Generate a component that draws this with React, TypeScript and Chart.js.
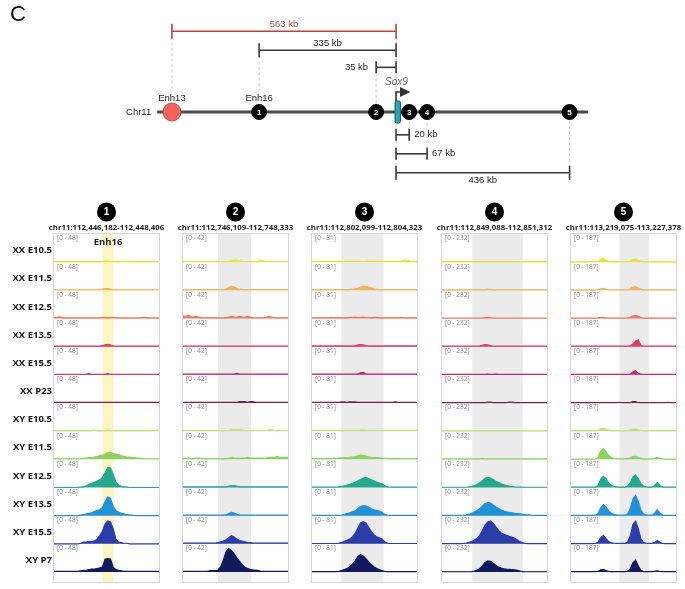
import React, { useEffect, useRef } from "react";
import { Chart, registerables } from "chart.js";

Chart.register(...registerables);

// ---------------- data: top locus map ----------------
const panelLetter = "C";
const chromName = "Chr11";
const chromosomeSpan = [-600, 482]; // schematic kb relative to Sox9 TSS
const elementNames = ["Enh13", "Enh16", "", "", "", ""];
const elementBadges = ["", "1", "2", "3", "4", "5"];
const elementPos = [-563, -344, -50, 33, 78, 436]; // schematic kb
const bracketStart = [-563, -344, -50, 0, 0, 0];
const bracketEnd = [0, 0, 0, 33, 78, 436];
const bracketLevel = [4.25, 3.25, 2.35, -1.2, -2.2, -3.2];
const bracketText = ["563 kb", "335 kb", "35 kb", "20 kb", "67 kb", "436 kb"];
const bracketTextSide = ["above", "above", "left", "right", "right", "below"];
const guideStop = [1.16, 1.16, 0.45, -0.45, -0.45, -0.45];
const geneName = "Sox9";
const sox9Span = [-2.5, 11];

// ---------------- data: coverage tracks ----------------
const trackNames = [
  "XX E10.5", "XX E11.5", "XX E12.5", "XX E13.5", "XX E15.5", "XX P23",
  "XY E10.5", "XY E11.5", "XY E12.5", "XY E13.5", "XY E15.5", "XY P7",
];
const regionBadges = ["1", "2", "3", "4", "5"];
const regionCoords = [
  "chr11:112,446,182-112,448,406",
  "chr11:112,746,109-112,748,333",
  "chr11:112,802,099-112,804,323",
  "chr11:112,849,088-112,851,312",
  "chr11:113,219,075-113,227,378",
];
const regionTags = ["Enh16", "", "", "", ""];
const rangeMax = [48, 42, 81, 232, 187];
const highlightStart = [18, 13, 10.9, 11.2, 18]; // bin units
const highlightEnd = [22.1, 25.3, 26.6, 30, 28.9];

const region1Tracks = [
  [1,1,1,1,1,1,1,1,1,1, 1,1,1,1,1,1,1,1,1,2, 2,1,1,1,1,1,1,2,1,1, 1,1,1,1,1,1,1,1,1,1],
  [1,1,1,1,1,1,1,1,1,1, 1,1,1,1,1,1,1,1,2,3, 3,2,1,1,1,1,1,1,1,1, 1,1,1,1,1,1,1,1,1,1],
  [1,2,3,2,1,1,1,1,1,1, 1,1,1,1,1,1,1,1,2,2, 1,2,2,1,1,1,1,1,1,1, 1,1,1,2,2,1,1,1,1,1],
  [1,1,1,1,1,1,1,1,1,1, 1,1,1,1,1,1,1,1,2,3, 4,3,1,1,1,1,1,1,1,1, 1,1,1,1,1,1,1,1,1,1],
  [1,1,1,1,1,1,1,1,1,1, 1,1,1,2,1,1,1,1,1,1, 2,1,1,1,1,1,1,1,1,1, 1,1,1,1,1,1,1,1,1,1],
  [1,1,1,1,1,1,1,1,1,1, 1,1,1,1,1,1,1,1,1,1, 1,1,1,1,1,1,1,1,1,1, 1,1,1,1,1,1,1,1,1,1],
  [1,1,1,1,1,1,1,1,1,1, 1,1,1,1,1,2,1,1,1,1, 2,1,1,1,1,1,1,1,1,1, 1,1,1,1,1,1,1,1,2,2],
  [1,1,1,1,1,1,1,1,1,1, 1,2,2,3,3,4,5,6,7,9, 11,12,10,9,8,6,5,4,4,3, 3,2,2,1,1,1,1,1,1,1],
  [0,0,0,0,0,0,0,0,0,0, 1,1,3,5,7,9,11,13,17,26, 34,33,22,9,4,2,1,1,0,0, 0,0,0,0,0,0,0,0,0,0],
  [0,0,0,0,0,0,0,0,0,0, 1,2,3,4,5,7,9,10,14,24, 32,29,15,9,6,4,3,2,1,1, 0,0,0,0,0,0,0,0,0,0],
  [0,0,0,0,0,0,0,0,0,0, 1,3,3,4,4,5,8,14,22,34, 39,37,26,8,3,2,1,1,0,0, 0,0,0,0,0,0,0,0,0,0],
  [1,1,1,1,1,1,1,1,1,1, 2,3,3,4,5,5,6,7,9,22, 23,22,8,4,3,2,1,1,1,1, 1,1,1,1,1,1,1,1,1,1],
];

const region2Tracks = [
  [1,1,1,1,1,1,1,1,1,1, 1,1,1,1,1,1,1,1,2,3, 3,2,1,1,1,1,1,1,2,3, 2,1,1,1,1,1,1,1,1,1],
  [1,1,1,1,1,1,1,1,1,1, 1,1,1,1,1,1,2,4,6,5, 3,2,1,1,1,1,1,1,1,1, 1,1,1,1,1,1,1,1,1,1],
  [4,3,5,3,2,3,2,1,1,1, 1,1,1,1,1,1,1,2,3,2, 2,3,2,2,3,2,1,1,1,1, 1,2,3,2,1,1,1,1,1,1],
  [1,1,1,1,1,1,1,1,1,1, 1,1,1,1,1,1,1,1,1,1, 1,1,1,1,1,1,1,1,1,1, 1,1,1,1,1,1,1,1,1,1],
  [1,1,1,1,1,1,1,1,1,1, 1,1,1,1,1,1,1,1,1,1, 2,1,1,1,1,1,1,1,1,1, 1,1,1,1,1,1,1,1,1,1],
  [1,1,1,1,1,1,1,1,1,1, 1,1,1,1,1,1,1,1,1,1, 1,2,2,2,1,2,2,1,1,1, 1,1,1,1,1,1,1,1,1,1],
  [1,1,1,1,1,1,1,1,1,1, 1,1,1,1,1,1,1,1,2,2, 2,2,2,1,1,1,1,1,1,1, 1,1,2,2,1,1,1,1,1,1],
  [1,1,2,1,1,2,2,1,1,1, 1,1,1,1,1,1,1,2,3,2, 2,2,2,2,3,2,2,2,2,2, 2,2,3,3,3,4,3,3,3,3],
  [1,1,1,1,1,1,1,1,1,1, 1,1,1,1,1,1,1,2,3,3, 2,1,1,1,1,1,1,1,1,1, 1,1,1,1,1,1,1,1,1,1],
  [1,1,1,1,1,1,1,1,1,1, 1,1,1,1,1,1,1,3,5,4, 2,1,1,1,1,1,1,1,1,1, 1,1,1,1,1,1,1,1,1,1],
  [1,1,1,1,1,1,1,1,1,1, 1,1,1,2,3,4,6,9,12,10, 7,5,4,3,2,2,1,1,1,1, 1,1,1,1,1,1,1,1,1,1],
  [1,1,1,1,1,1,1,1,1,1, 2,2,2,3,8,18,30,35,32,27, 21,16,11,7,5,4,3,3,2,1, 1,1,1,1,1,1,1,1,1,1],
];

const region3Tracks = [
  [2,2,2,2,2,2,2,2,2,2, 2,2,2,2,2,2,2,2,2,2, 3,3,2,2,2,2,2,2,2,2, 2,2,2,3,5,6,4,2,2,2],
  [2,2,2,2,2,2,2,2,2,2, 2,2,2,2,2,3,4,6,9,12, 11,9,7,5,3,2,2,2,2,2, 2,2,2,2,2,2,2,2,2,2],
  [2,2,2,2,2,2,2,3,2,2, 2,2,2,2,3,3,4,3,3,4, 3,3,2,3,3,2,2,2,2,2, 2,2,2,3,2,2,2,2,2,2],
  [2,2,2,2,2,2,2,2,2,2, 2,2,2,2,2,2,3,5,6,5, 3,2,2,2,2,2,2,2,2,2, 2,2,2,2,2,2,2,2,2,2],
  [2,2,2,2,2,2,2,2,2,2, 2,2,2,2,2,2,2,3,6,7, 3,2,2,2,2,2,2,2,2,2, 2,2,2,2,2,2,2,2,2,2],
  [2,2,2,2,2,2,2,2,2,2, 2,3,3,2,3,3,3,2,2,2, 2,2,2,2,2,2,2,2,2,2, 2,3,2,2,2,2,2,2,2,2],
  [2,2,2,2,2,2,2,2,2,2, 2,2,2,2,2,2,2,2,3,3, 3,2,2,2,2,2,2,2,2,2, 2,2,2,2,2,2,2,2,2,2],
  [2,2,2,2,2,2,2,2,3,3, 4,4,5,5,6,7,8,10,12,11, 9,7,6,5,5,4,4,3,3,2, 2,3,2,2,2,2,2,2,2,2],
  [1,1,1,1,1,1,1,1,1,1, 2,3,5,7,9,12,15,19,23,27, 29,26,22,19,16,13,10,5,2,1, 1,1,1,1,1,1,1,1,1,1],
  [1,1,1,1,1,1,1,1,1,1, 1,2,4,6,8,11,14,20,26,29, 28,25,20,17,15,13,10,4,2,1, 1,1,1,1,1,1,1,1,1,1],
  [1,1,1,1,1,1,1,1,1,1, 2,4,7,10,14,20,30,45,60,64, 60,48,36,26,20,17,14,6,2,1, 1,1,1,1,1,1,1,1,1,1],
  [1,1,1,1,1,1,1,1,1,1, 2,4,7,10,15,22,32,44,50,46, 38,30,22,15,10,7,4,2,1,1, 1,1,1,1,1,1,1,1,1,1],
];

const region4Tracks = [
  [4,4,4,4,4,4,4,4,4,4, 4,4,4,4,4,4,4,4,4,4, 4,4,4,4,4,4,4,4,4,4, 4,4,4,4,4,4,4,4,4,4],
  [4,4,4,4,4,4,4,4,4,4, 4,4,4,4,4,4,4,8,8,4, 4,4,4,4,4,4,4,4,4,4, 4,4,4,4,4,4,4,4,4,4],
  [4,4,4,4,4,4,4,4,4,4, 4,4,4,4,4,4,8,10,8,4, 4,4,4,4,4,4,4,4,4,4, 4,4,4,4,4,4,4,4,4,4],
  [4,4,4,4,4,4,4,4,4,4, 4,4,4,4,6,12,16,14,8,4, 4,4,4,4,4,4,4,4,4,4, 4,4,4,4,4,4,4,4,4,4],
  [4,4,4,4,4,4,4,4,4,4, 4,4,4,4,4,4,4,6,4,4, 6,4,4,4,4,4,4,4,4,4, 4,4,4,4,4,4,4,4,4,4],
  [3,3,3,3,3,3,3,3,3,3, 3,3,3,3,3,3,3,7,7,3, 3,3,3,3,3,7,7,3,3,3, 3,3,3,3,3,3,3,3,3,3],
  [3,3,3,3,3,3,3,3,3,3, 3,3,3,3,3,3,3,3,3,3, 3,3,3,3,3,3,3,3,3,3, 3,3,3,3,3,3,3,3,3,3],
  [3,3,3,3,3,3,3,3,3,3, 3,3,3,3,3,7,3,3,3,3, 3,3,3,3,3,3,3,3,3,3, 3,3,3,3,3,3,3,3,3,3],
  [2,2,2,2,2,2,2,2,2,2, 5,10,16,25,38,55,75,83,78,66, 52,40,30,22,16,12,9,6,4,3, 2,2,2,2,2,2,2,2,2,2],
  [2,2,2,2,2,2,2,2,4,7, 12,20,30,42,58,80,100,108,104,88, 72,58,46,38,32,27,23,20,17,14, 11,8,6,4,3,2,2,2,2,2],
  [2,2,2,2,2,2,2,2,3,6, 12,20,30,45,70,110,155,180,188,170, 140,110,90,78,70,62,55,45,32,18, 8,4,2,2,2,2,2,2,2,2],
  [2,2,2,2,2,2,2,2,2,2, 2,3,8,15,28,50,78,91,88,72, 55,40,32,27,24,22,20,18,14,8, 3,2,2,2,2,2,2,2,2,2],
];

const region5Tracks = [
  [2,2,2,2,2,2,2,3,6,3, 4,18,27,12,5,2,2,2,2,2, 2,3,8,18,20,12,5,2,2,2, 2,2,2,2,2,2,2,2,2,2],
  [3,3,3,3,3,3,3,3,3,3, 5,10,13,7,4,3,3,3,3,3, 3,4,10,20,24,16,6,3,3,3, 3,3,3,3,3,3,3,3,3,3],
  [3,3,3,3,3,3,3,3,3,3, 4,6,7,5,3,3,3,3,3,3, 3,4,9,16,20,15,6,3,3,3, 3,3,3,3,3,3,3,3,3,3],
  [3,3,3,3,3,3,3,3,3,3, 3,3,3,3,3,3,3,3,3,3, 3,4,6,18,38,45,8,3,3,3, 3,3,3,3,3,3,3,3,3,3],
  [3,3,3,3,3,3,3,3,3,3, 3,3,3,3,3,3,3,3,3,3, 3,3,5,18,27,10,3,3,3,3, 3,3,3,3,3,3,3,3,3,3],
  [2,2,2,2,2,2,2,2,2,2, 2,2,2,2,2,2,2,2,5,2, 2,2,2,10,9,2,2,2,2,2, 2,2,2,2,2,2,5,2,2,2],
  [3,3,3,3,3,3,3,3,3,3, 6,15,20,14,7,4,3,3,3,3, 3,4,8,12,13,10,6,4,3,3, 3,3,3,3,3,3,3,3,3,3],
  [2,2,2,2,2,2,2,2,2,3, 10,55,71,50,25,12,6,4,3,3, 3,5,10,18,20,12,5,3,3,3, 3,6,13,6,3,2,2,2,2,2],
  [2,2,2,2,2,2,2,2,2,3, 12,55,74,60,30,14,7,4,3,3, 3,8,30,70,83,60,25,9,4,3, 3,12,33,15,4,2,2,2,2,2],
  [2,2,2,2,2,2,2,2,2,3, 12,50,74,58,30,15,7,4,3,3, 3,10,45,110,134,95,35,10,4,3, 3,14,40,18,4,2,2,2,2,2],
  [2,2,2,2,2,2,2,2,2,3, 8,40,56,35,15,7,4,3,3,3, 3,10,50,130,150,100,30,8,4,3, 3,8,22,10,3,2,2,2,2,2],
  [2,2,2,2,2,2,2,2,2,2, 4,14,18,10,4,2,2,2,2,2, 2,5,20,60,78,40,10,3,2,2, 2,4,7,4,2,2,2,2,2,2],
];

const regionTracks = [region1Tracks, region2Tracks, region3Tracks, region4Tracks, region5Tracks];
const binLabels = region1Tracks[0].map((_, i) => String(i));

// ---------------- styles ----------------
const trackColors = [
  "#e4e43e", "#f2b25e", "#ec7b62", "#dc3d6c", "#c4276c", "#7d1d48",
  "#c4e07e", "#8fd062", "#25a98e", "#2391d6", "#2b3ea8", "#121a5e",
];
const highlightColors = ["#fdf6c2", "#ebebeb", "#ebebeb", "#ebebeb", "#ebebeb"];
const markerRadius = [9, 7.5, 7.5, 7.5, 7.5, 7.5];
const markerFill = ["#f2655c", "#000", "#000", "#000", "#000", "#000"];
const markerStroke = ["#c44a42", "#000", "#000", "#000", "#000", "#000"];
const bracketColors = ["#b8433f", "#3a3a3a", "#3a3a3a", "#3a3a3a", "#3a3a3a", "#3a3a3a"];
const bracketTextColors = ["#b5504a", "#222", "#222", "#222", "#222", "#222"];
const bracketTick = [7.5, 7, 6, 6, 6, 7];

const FONT_SANS = "'Liberation Sans', Arial, sans-serif";
const FONT_TRACK = "'Open Sans', 'Noto Sans', sans-serif";

const X_MIN = -995;
const X_MAX = 726;
const Y_MIN = -4.368;
const Y_MAX = 5.895;
const TOP_INSET = 10; // Chart.js keeps this much room round the points

const boxLeft = [54, 183, 312, 442, 571];
const BOX_W = 105;

// ---------------- top locus map ----------------
const topPlugin = {
  id: "topLabels",
  afterDatasetsDraw(chart: any) {
    const { ctx, chartArea } = chart;
    const xs = chart.scales.x;
    const ys = chart.scales.y;
    const X = (v: number) => xs.getPixelForValue(v);
    const Y = (v: number) => ys.getPixelForValue(v);
    ctx.save();
    ctx.textBaseline = "middle";

    ctx.fillStyle = "#111";
    ctx.font = `22px ${FONT_SANS}`;
    ctx.textAlign = "left";
    ctx.fillText(panelLetter, chartArea.left + 10, chartArea.top + 15);

    ctx.font = `9.5px ${FONT_SANS}`;
    ctx.fillStyle = "#222";
    ctx.textAlign = "right";
    ctx.fillText(chromName, X(chromosomeSpan[0]) - 6, Y(0));

    ctx.textAlign = "center";
    elementNames.forEach((n, i) => {
      if (n) ctx.fillText(n, X(elementPos[i]), Y(0) - 14);
    });

    ctx.font = `bold 8px ${FONT_SANS}`;
    ctx.fillStyle = "#fff";
    elementBadges.forEach((b, i) => {
      if (b) ctx.fillText(b, X(elementPos[i]), Y(0) + 0.5);
    });

    ctx.font = `9.5px ${FONT_SANS}`;
    bracketText.forEach((t, i) => {
      const ly = Y(bracketLevel[i]);
      const a = X(bracketStart[i]);
      const b = X(bracketEnd[i]);
      ctx.fillStyle = bracketTextColors[i];
      const side = bracketTextSide[i];
      if (side === "above") {
        ctx.textAlign = "center";
        ctx.fillText(t, (a + b) / 2, ly - 7);
      } else if (side === "below") {
        ctx.textAlign = "center";
        ctx.fillText(t, (a + b) / 2, ly + 8);
      } else if (side === "left") {
        ctx.textAlign = "right";
        ctx.fillText(t, a - 8, ly);
      } else {
        ctx.textAlign = "left";
        ctx.fillText(t, b + 5, ly);
      }
    });

    // Sox9 gene body
    const gx0 = X(sox9Span[0]);
    const gx1 = X(sox9Span[1]);
    const gy0 = Y(0.58);
    const gy1 = Y(-0.58);
    ctx.fillStyle = "#2fa3b5";
    ctx.strokeStyle = "#1c5560";
    ctx.lineWidth = 1;
    ctx.beginPath();
    if (ctx.roundRect) ctx.roundRect(gx0, gy0, gx1 - gx0, gy1 - gy0, 1.5);
    else ctx.rect(gx0, gy0, gx1 - gx0, gy1 - gy0);
    ctx.fill();
    ctx.stroke();

    // TSS arrow
    const ay = Y(1.05);
    ctx.strokeStyle = "#333";
    ctx.lineWidth = 1.6;
    ctx.beginPath();
    ctx.moveTo(X(0), gy0);
    ctx.lineTo(X(0), ay);
    ctx.lineTo(X(12), ay);
    ctx.stroke();
    ctx.fillStyle = "#333";
    ctx.beginPath();
    ctx.moveTo(X(10), ay - 5);
    ctx.lineTo(X(36), ay);
    ctx.lineTo(X(10), ay + 5);
    ctx.closePath();
    ctx.fill();

    ctx.font = `italic 10px ${FONT_SANS}`;
    ctx.fillStyle = "#666";
    ctx.textAlign = "center";
    ctx.fillText(geneName, X(1), Y(1.58));
    ctx.restore();
  },
};

function TopDiagram() {
  const ref = useRef<HTMLCanvasElement>(null);
  useEffect(() => {
    const datasets: any[] = [];
    datasets.push({
      type: "scatter",
      data: elementPos.map((x) => ({ x, y: 0 })),
      pointRadius: markerRadius,
      pointBackgroundColor: markerFill,
      pointBorderColor: markerStroke,
      pointBorderWidth: 1,
      order: 0,
    });
    bracketStart.forEach((s, i) => {
      datasets.push({
        type: "line",
        data: [
          { x: s, y: bracketLevel[i] },
          { x: bracketEnd[i], y: bracketLevel[i] },
        ],
        borderColor: bracketColors[i],
        borderWidth: 1.6,
        pointStyle: "line",
        pointRadius: bracketTick[i],
        pointRotation: 90,
        pointBorderColor: bracketColors[i],
        pointBorderWidth: 1.6,
        order: 1,
      });
    });
    datasets.push({
      type: "line",
      data: chromosomeSpan.map((x) => ({ x, y: 0 })),
      borderColor: "#4a4a4a",
      borderWidth: 3,
      pointRadius: 0,
      order: 2,
    });
    bracketStart.forEach((s, i) => {
      const ex = s !== 0 ? s : bracketEnd[i];
      datasets.push({
        type: "line",
        data: [
          { x: ex, y: bracketLevel[i] },
          { x: ex, y: guideStop[i] },
        ],
        borderColor: "#c6c6c6",
        borderWidth: 1,
        borderDash: [3, 2.5],
        pointRadius: 0,
        order: 3,
      });
    });
    datasets.push({
      type: "line",
      data: [
        { x: 0, y: bracketLevel[0] },
        { x: 0, y: 0.65 },
      ],
      borderColor: "#c6c6c6",
      borderWidth: 1,
      borderDash: [3, 2.5],
      pointRadius: 0,
      order: 3,
    });
    datasets.push({
      type: "line",
      data: [
        { x: 0, y: -0.65 },
        { x: 0, y: bracketLevel[5] },
      ],
      borderColor: "#c6c6c6",
      borderWidth: 1,
      borderDash: [3, 2.5],
      pointRadius: 0,
      order: 3,
    });

    const chart = new Chart(ref.current as HTMLCanvasElement, {
      type: "line",
      data: { datasets },
      options: {
        responsive: false,
        animation: false,
        events: [],
        layout: { padding: TOP_INSET },
        plugins: { legend: { display: false }, tooltip: { enabled: false } },
        scales: {
          x: { type: "linear", min: X_MIN, max: X_MAX, display: false },
          y: { type: "linear", min: Y_MIN, max: Y_MAX, display: false },
        },
      } as any,
      plugins: [topPlugin as any],
    });
    return () => chart.destroy();
  }, []);
  return (
    <canvas
      ref={ref}
      width={685 + 2 * TOP_INSET}
      height={195 + 2 * TOP_INSET}
      style={{
        position: "absolute",
        left: -TOP_INSET,
        top: -TOP_INSET,
        width: 685 + 2 * TOP_INSET,
        height: 195 + 2 * TOP_INSET,
      }}
    />
  );
}

// ---------------- coverage columns ----------------
function makeColumnPlugin(c: number) {
  return {
    id: "column" + c,
    beforeDatasetsDraw(chart: any) {
      const { ctx, chartArea } = chart;
      const xs = chart.scales.x;
      const x0 = xs.getPixelForValue(highlightStart[c]);
      const x1 = xs.getPixelForValue(highlightEnd[c]);
      ctx.save();
      ctx.fillStyle = highlightColors[c];
      ctx.fillRect(x0, chartArea.top, x1 - x0, chartArea.bottom + 10 - chartArea.top);
      ctx.restore();
    },
    afterDatasetsDraw(chart: any) {
      const { ctx, chartArea } = chart;
      const xs = chart.scales.x;
      ctx.save();
      ctx.strokeStyle = "#d6d6d6";
      ctx.lineWidth = 1;
      ctx.strokeRect(
        chartArea.left - 0.5,
        chartArea.top - 0.5,
        chartArea.right - chartArea.left + 1,
        chartArea.bottom + 10 - chartArea.top + 1
      );
      ctx.textBaseline = "middle";
      trackNames.forEach((name, t) => {
        const s = chart.scales["y" + t];
        ctx.font = `6.5px ${FONT_TRACK}`;
        ctx.fillStyle = "#888";
        ctx.textAlign = "left";
        ctx.fillText(`[0 - ${rangeMax[c]}]`, chartArea.left + 3, s.top + 4.5);
        if (c === 0) {
          ctx.font = `bold 9.5px ${FONT_TRACK}`;
          ctx.fillStyle = "#111";
          ctx.textAlign = "right";
          ctx.fillText(name, chartArea.left - 2, s.top + 16.5);
        }
      });
      const cx = (chartArea.left + chartArea.right) / 2;
      ctx.fillStyle = "#000";
      ctx.beginPath();
      ctx.arc(cx, chartArea.top - 22, 9.5, 0, Math.PI * 2);
      ctx.fill();
      ctx.fillStyle = "#fff";
      ctx.textAlign = "center";
      ctx.font = `bold 10px ${FONT_SANS}`;
      ctx.fillText(regionBadges[c], cx, chartArea.top - 21.5);
      ctx.fillStyle = "#222";
      ctx.font = `bold 7.8px ${FONT_TRACK}`;
      ctx.fillText(regionCoords[c], cx, chartArea.top - 6);
      if (regionTags[c]) {
        const tx = (xs.getPixelForValue(highlightStart[c]) + xs.getPixelForValue(highlightEnd[c])) / 2;
        ctx.font = `bold 9.5px ${FONT_TRACK}`;
        ctx.fillStyle = "#222";
        ctx.fillText(regionTags[c], tx, chartArea.top + 8.5);
      }
      ctx.restore();
    },
  };
}

function RegionColumn({ c }: { c: number }) {
  const ref = useRef<HTMLCanvasElement>(null);
  const left = c === 0 ? 0 : boxLeft[c] - 12;
  const width = c === 0 ? boxLeft[0] + BOX_W + 12 : BOX_W + 24;
  useEffect(() => {
    const tracks = regionTracks[c];
    const scales: any = { x: { type: "category", display: false, offset: false } };
    trackNames.forEach((_, t) => {
      scales["y" + t] = {
        type: "linear",
        axis: "y",
        position: "right",
        stack: "tracks",
        stackWeight: 1,
        min: 0,
        max: rangeMax[c],
        display: false,
      };
    });
    const datasets = tracks.map((vals, t) => ({
      type: "line",
      data: vals,
      xAxisID: "x",
      yAxisID: "y" + t,
      borderColor: trackColors[t],
      backgroundColor: trackColors[t],
      borderWidth: 1.2,
      pointRadius: 0,
      fill: "origin",
      tension: 0,
      clip: 2,
    }));
    const chart = new Chart(ref.current as HTMLCanvasElement, {
      type: "line",
      data: { labels: binLabels, datasets } as any,
      options: {
        responsive: false,
        animation: false,
        events: [],
        layout: { padding: { left: boxLeft[c] - left, right: 12, top: 39, bottom: 17 } },
        plugins: { legend: { display: false }, tooltip: { enabled: false } },
        scales,
      } as any,
      plugins: [makeColumnPlugin(c) as any],
    });
    return () => chart.destroy();
  }, [c]);
  return (
    <canvas
      ref={ref}
      width={width}
      height={394}
      style={{ position: "absolute", left, top: 195, width, height: 394 }}
    />
  );
}

export default function App() {
  return (
    <div
      style={{
        position: "absolute",
        left: 0,
        top: 0,
        width: 685,
        height: 589,
        overflow: "hidden",
        background: "#fff",
      }}
    >
      <TopDiagram />
      {regionBadges.map((_, c) => (
        <RegionColumn key={c} c={c} />
      ))}
    </div>
  );
}
